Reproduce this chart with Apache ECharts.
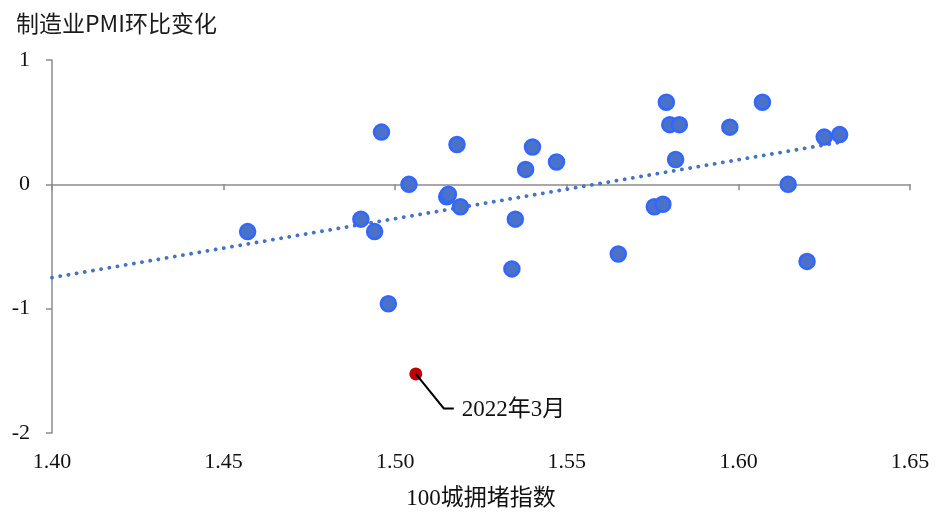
<!DOCTYPE html>
<html><head><meta charset="utf-8">
<script src="https://cdn.jsdelivr.net/npm/echarts@6/dist/echarts.min.js"></script>
<style>html,body{margin:0;padding:0;background:#fff}#c{width:938px;height:515px}</style>
</head><body><div id="c"></div>
<script>
const congestion = [1.457,1.490,1.494,1.496,1.498,1.504,1.515,1.5155,1.518,1.519,1.534,1.535,1.538,1.540,1.547,1.565,1.5755,1.578,1.579,1.580,1.5817,1.5828,1.5975,1.607,1.6145,1.620,1.625,1.6295];
const pmiChange = [-0.38,-0.28,-0.38,0.42,-0.96,0,-0.10,-0.08,0.32,-0.18,-0.68,-0.28,0.12,0.30,0.18,-0.56,-0.18,-0.16,0.66,0.48,0.20,0.48,0.46,0.66,0,-0.62,0.38,0.40];
const highlightX = [1.506];
const highlightY = [-1.525];
const highlightLabel = ['2022年3月'];
const trendX = [1.40, 1.63];
const trendY = [-0.75, 0.34];
const xTicks = ['1.40','1.45','1.50','1.55','1.60','1.65'];
const yTicks = ['-2','-1','0','1'];

const serif = '"Liberation Serif","Times New Roman","Noto Sans CJK SC",serif';
const chart = echarts.init(document.getElementById('c'));
chart.setOption({
  animation:false,
  backgroundColor:'#fff',
  title:{text:'制造业PMI环比变化',left:11,top:7,textStyle:{fontFamily:'"Noto Sans CJK SC","Noto Sans",sans-serif',fontSize:23,fontWeight:'normal',color:'#1a1a1a'}},
  grid:{left:52,right:28,top:60,bottom:80},
  xAxis:[{
    type:'value',min:1.40,max:1.65,interval:0.05,position:'bottom',
    axisLine:{show:false,onZero:false},axisTick:{show:false},splitLine:{show:false},
    axisLabel:{margin:18,fontFamily:serif,fontSize:22,color:'#111',formatter:v=>xTicks[Math.round((v-1.40)/0.05)]},
    name:'100城拥堵指数',nameLocation:'middle',nameGap:54,
    nameTextStyle:{fontFamily:serif,fontSize:23,color:'#111'}
  },{
    type:'value',min:1.40,max:1.65,interval:0.05,position:'bottom',
    axisLine:{show:true,onZero:true,lineStyle:{color:'#8c8c8c',width:1.5}},
    axisTick:{show:true,inside:false,length:6,lineStyle:{color:'#8c8c8c',width:1.5}},
    axisLabel:{show:false},splitLine:{show:false}
  }],
  yAxis:{
    type:'value',min:-2,max:1,interval:1,
    axisLine:{show:true,lineStyle:{color:'#8c8c8c',width:1.5}},
    axisTick:{show:true,length:6,lineStyle:{color:'#8c8c8c',width:1.5}},
    splitLine:{show:false},
    axisLabel:{margin:22,fontFamily:serif,fontSize:22,color:'#111',formatter:v=>yTicks[Math.round(v+2)]}
  },
  series:[{
    type:'line',data:trendX.map((x,i)=>[x,trendY[i]]),symbol:'none',
    lineStyle:{color:'#4472C4',width:3.8,type:[0.1,8.2],cap:'round'},z:1
  },{
    type:'scatter',data:congestion.map((x,i)=>[x,pmiChange[i]]),symbolSize:15,
    itemStyle:{color:'#4a72c8',borderColor:'#3366ff',borderWidth:2.5,opacity:1},z:2
  },{
    type:'scatter',data:highlightX.map((x,i)=>[x,highlightY[i]]),symbolSize:13,
    itemStyle:{color:'#c00000',opacity:1},z:3
  }]
});
// leader line and label for the highlighted point, anchored via the library's scale
const p = chart.convertToPixel({seriesIndex:2}, [highlightX[0], highlightY[0]]);
chart.setOption({
  graphic:[{
    type:'polyline',z:10,
    shape:{points:[[p[0],p[1]],[p[0]+28,p[1]+34.5],[p[0]+38,p[1]+34.5]]},
    style:{stroke:'#000',lineWidth:2,fill:null}
  },{
    type:'text',z:10,x:p[0]+46,y:p[1]+36,
    style:{text:highlightLabel[0],font:'23px '+serif,fill:'#111',textVerticalAlign:'middle',textAlign:'left'}
  }]
});
</script></body></html>
